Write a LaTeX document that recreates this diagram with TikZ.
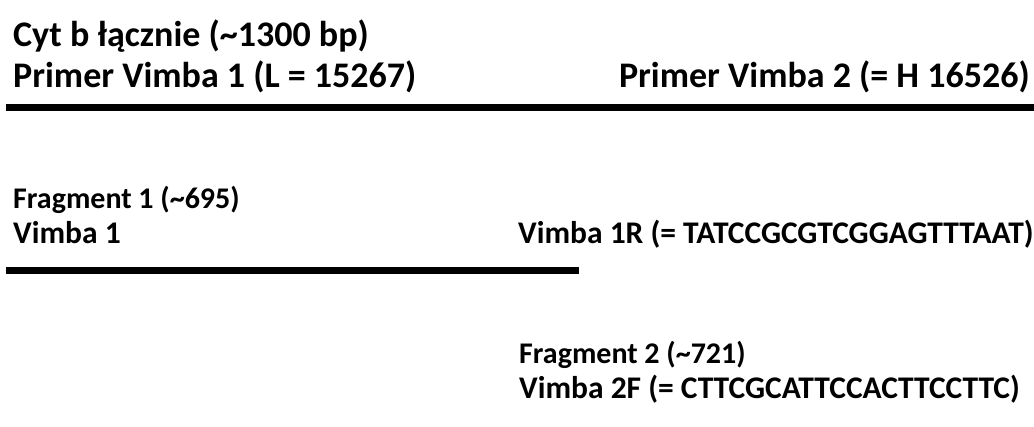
\documentclass[tikz,border=0pt]{standalone}
\usepackage{fontspec}
\setmainfont{Carlito}
\begin{document}
\begin{tikzpicture}[x=1pt,y=-1pt,
  big/.style={font=\bfseries\fontsize{36}{40}\selectfont, inner sep=0pt},
  mid/.style={font=\bfseries\fontsize{30}{34}\selectfont, inner sep=0pt},
  small/.style={font=\bfseries\fontsize{31.5}{34}\selectfont, inner sep=0pt},
  bar/.style={line width=7pt, line cap=butt}]
  \useasboundingbox (0,0) rectangle (1034,426);
  % whole cyt b region
  \node[big, anchor=base west] (cyt) at (13,46) {Cyt b łącznie (\textasciitilde1300 bp)};
  \node[big, anchor=base west] (p1) at (13,87) {Primer Vimba 1 (L = 15267)};
  \node[big, anchor=base east] (p2) at (1030,87) {Primer Vimba 2 (= H 16526)};
  \coordinate (barAs) at (6,107.5);
  \coordinate (barAe) at (1034,107.5);
  \draw[bar] (barAs) -- (barAe);
  % fragment 1
  \node[mid, anchor=base west] (f1) at (13,208) {Fragment 1 (\textasciitilde695)};
  \node[small, anchor=base west] (v1) at (13,243) {Vimba 1};
  \node[small, anchor=base west] (v1r) at (518,243) {Vimba 1R (= TATCCGCGTCGGAGTTTAAT)};
  \coordinate (barBs) at (6,270);
  \coordinate (barBe) at (579,270);
  \draw[bar] (barBs) -- (barBe);
  % fragment 2
  \node[mid, anchor=base west] (f2) at (519,363) {Fragment 2 (\textasciitilde721)};
  \node[small, anchor=base west] (v2f) at (519,398) {Vimba 2F (= CTTCGCATTCCACTTCCTTC)};
\end{tikzpicture}
\end{document}
